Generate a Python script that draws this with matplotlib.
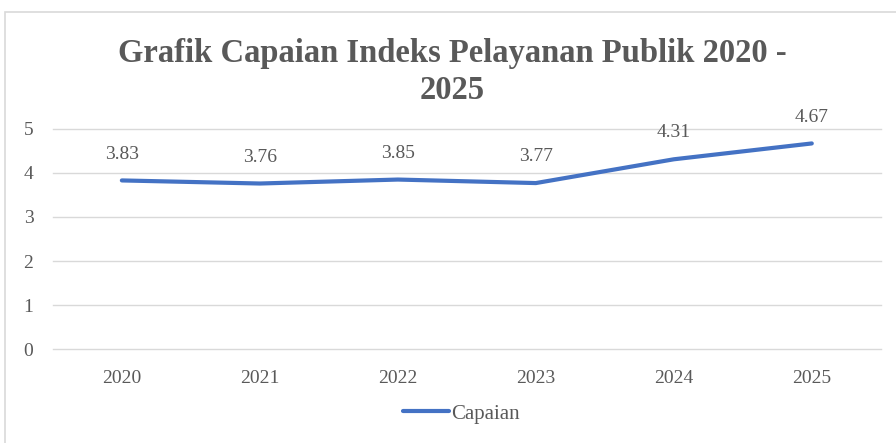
import matplotlib.pyplot as plt
from matplotlib.patches import Rectangle

tahun = ['2020', '2021', '2022', '2023', '2024', '2025']
capaian = [3.83, 3.76, 3.85, 3.77, 4.31, 4.67]
label_capaian = ['3.83', '3.76', '3.85', '3.77', '4.31', '4.67']

plt.rcParams['font.family'] = ['Liberation Serif', 'DejaVu Serif']
abu = '#595959'

fig = plt.figure(figsize=(8.96, 4.43), dpi=100)
fig.patches.append(Rectangle((0.006, -0.01), 1.0, 0.983, transform=fig.transFigure,
                             fill=False, edgecolor='#d9d9d9', linewidth=1.2))

ax = fig.add_axes([0.059, 0.212, 0.924, 0.497])
x = range(len(tahun))
ax.plot(x, capaian, color='#4472C4', linewidth=3, solid_capstyle='round',
        solid_joinstyle='round', label='Capaian')
for i, (v, t) in enumerate(zip(capaian, label_capaian)):
    ax.annotate(t, (i, v), xytext=(0, 19), textcoords='offset points',
                ha='center', va='center', fontsize=14, color=abu)

ax.set_xlim(-0.5, len(tahun) - 0.5)
ax.set_ylim(0, 5)
ax.set_yticks(range(6))
ax.set_xticks(list(x))
ax.set_xticklabels(tahun)
ax.grid(axis='y', color='#d9d9d9', linewidth=1)
for g in ax.get_ygridlines():
    g.set_clip_on(False)
ax.set_axisbelow(True)
for s in ax.spines.values():
    s.set_visible(False)
ax.tick_params(length=0, labelsize=14, labelcolor=abu)
ax.tick_params(axis='x', pad=15)
ax.tick_params(axis='y', pad=14)

fig.text(0.505, 0.838, 'Grafik Capaian Indeks Pelayanan Publik 2020 -\n2025',
         ha='center', va='center', fontsize=23.5, fontweight='bold', color=abu,
         linespacing=1.25)

fig.legend(loc='center', bbox_to_anchor=(0.515, 0.066), frameon=False,
           fontsize=15, labelcolor=abu, handlelength=2.2, handletextpad=0.1)

fig.savefig('out.png', dpi=100)
